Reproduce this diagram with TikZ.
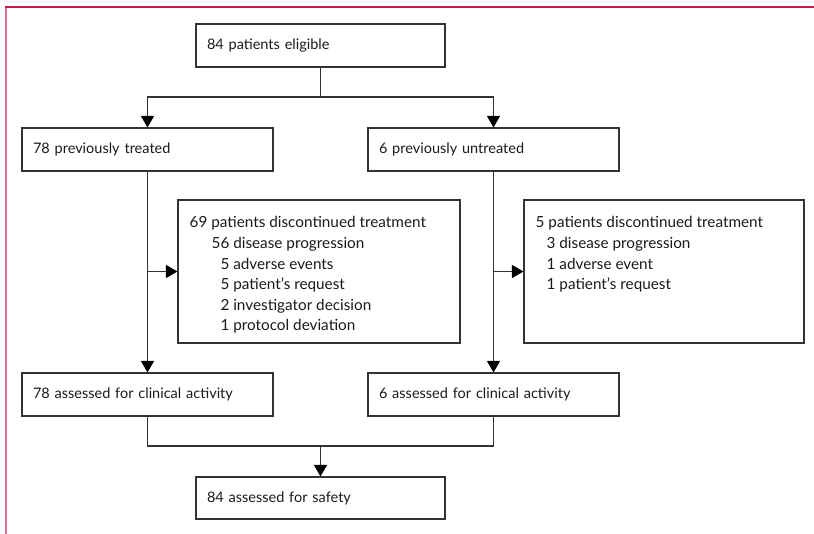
\documentclass[tikz,border=0pt]{standalone}
\usepackage{fontspec}
\setmainfont{Lato}
\usetikzlibrary{arrows.meta,calc}
\definecolor{linec}{HTML}{333333}
\definecolor{textc}{HTML}{1A1A1A}
\definecolor{framec}{HTML}{C8194B}
\definecolor{framel}{HTML}{DE6F93}
\begin{document}
\begin{tikzpicture}[x=1pt,y=-1pt,
  font=\fontsize{14.5pt}{20.6pt}\selectfont, text=textc,
  box/.style={draw=linec, line width=1.1pt, minimum height=43pt, inner ysep=0pt,
    inner xsep=11pt, align=left},
  bigbox/.style={draw=linec, line width=1.1pt, minimum height=143pt, inner sep=0pt},
  lst/.style={anchor=north west, align=left, inner sep=0pt,
    font=\fontsize{15.3pt}{20.6pt}\selectfont},
  conn/.style={draw=linec, line width=1.1pt},
  arr/.style={conn, -{Triangle[width=13pt,length=11.5pt,color=black]}}]
\useasboundingbox (0,0) rectangle (814,534);
% frame
\draw[framel, line width=1.3pt] (6,534) -- (6,7.5);
\draw[framec, line width=1.3pt] (5.4,7) -- (814,7);
% boxes
\node[box, text width=227pt] (elig) at (320.5,45.5) {84 patients eligible};
\node[box, text width=229pt] (prev) at (147.5,149.5) {78 previously treated};
\node[box, text width=229pt] (untr) at (493.5,149.5) {6 previously untreated};
\node[bigbox, minimum width=282pt] (d1) at (319,271.5) {};
\node[bigbox, minimum width=280pt] (d2) at (664,271.5) {};
\node[lst] (d1t) at ($(d1.north west)+(12,17)$) {69 patients discontinued treatment\\
  \hspace*{22pt}56 disease progression\\
  \hspace*{22pt}\phantom{0}5 adverse events\\
  \hspace*{22pt}\phantom{0}5 patient’s request\\
  \hspace*{22pt}\phantom{0}2 investigator decision\\
  \hspace*{22pt}\phantom{0}1 protocol deviation};
\node[lst] (d2t) at ($(d2.north west)+(12,17)$) {5 patients discontinued treatment\\
  \hspace*{11pt}3 disease progression\\
  \hspace*{11pt}1 adverse event\\
  \hspace*{11pt}1 patient’s request};
\node[box, text width=229pt] (act1) at (147.5,394.5) {78 assessed for clinical activity};
\node[box, text width=229pt] (act2) at (493.5,394.5) {6 assessed for clinical activity};
\node[box, text width=227pt, minimum height=42pt] (safe) at (320.5,498) {84 assessed for safety};
% connectors
\coordinate (split) at (320.5,97);
\coordinate (merge) at (320.5,446);
\draw[conn] (elig.south) -- (split);
\draw[arr] (split) -| (prev.north);
\draw[arr] (split) -| (untr.north);
\draw[arr] (prev.south) -- (act1.north);
\draw[arr] (prev.south |- d1.west) -- (d1.west);
\draw[arr] (untr.south) -- (act2.north);
\draw[arr] (untr.south |- d2.west) -- (d2.west);
\draw[conn] (act1.south) |- (merge) -| (act2.south);
\draw[arr] (merge) -- (safe.north);
\end{tikzpicture}
\end{document}
